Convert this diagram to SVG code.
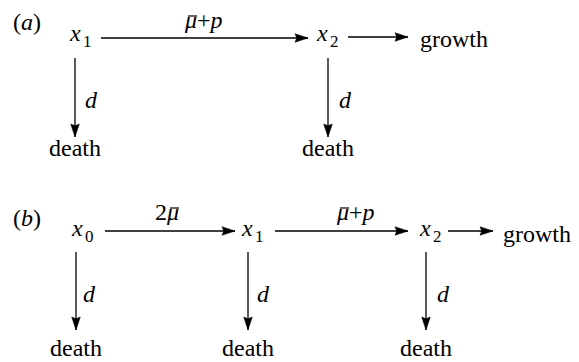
<svg xmlns="http://www.w3.org/2000/svg" width="579" height="362" viewBox="0 0 579 362">
<defs>
<marker id="ah" markerWidth="16" markerHeight="12" viewBox="-14 -6 16 12" refX="0" refY="0" orient="auto" markerUnits="userSpaceOnUse">
<path d="M0,0 L-13,-4.3 L-11.3,0 L-13,4.3 Z" fill="#000" stroke="#000" stroke-width="0.5" stroke-linejoin="miter"/>
</marker>
<style>
text{font-family:"Liberation Serif","Times New Roman",Times,Tinos,"Nimbus Roman","TeX Gyre Termes",FreeSerif,"Noto Serif","DejaVu Serif",serif;font-size:24px;fill:#000}
.it{font-style:italic}
.sub{font-size:17px;font-style:normal}
.lbl{font-style:italic}
.ctr{text-anchor:middle}
.arr{stroke:#000;stroke-width:1.3;marker-end:url(#ah)}
.bar{stroke:#000;stroke-width:1.2}
</style>
</defs>
<rect width="579" height="362" fill="#fff"/>
<g id="panel-a-label"><text x="13" y="30">(<tspan class="it">a</tspan>)</text></g>
<g id="a-x1"><text x="70" y="41" class="it">x</text><text x="83" y="47" class="sub">1</text></g>
<g id="a-x2"><text x="317" y="41" class="it">x</text><text x="330" y="47" class="sub">2</text></g>
<g id="a-growth"><text x="420" y="47">growth</text></g>
<g id="a-death1"><text x="75" y="156" class="ctr">death</text></g>
<g id="a-death2"><text x="328" y="156" class="ctr">death</text></g>
<g id="panel-b-label"><text x="13" y="226">(<tspan class="it">b</tspan>)</text></g>
<g id="b-x0"><text x="72" y="236" class="it">x</text><text x="85" y="242" class="sub">0</text></g>
<g id="b-x1"><text x="242" y="236" class="it">x</text><text x="255" y="242" class="sub">1</text></g>
<g id="b-x2"><text x="420" y="236" class="it">x</text><text x="433" y="242" class="sub">2</text></g>
<g id="b-growth"><text x="503" y="242">growth</text></g>
<g id="b-death0"><text x="76" y="356" class="ctr">death</text></g>
<g id="b-death1"><text x="248" y="356" class="ctr">death</text></g>
<g id="b-death2"><text x="426" y="356" class="ctr">death</text></g>
<g id="connectors">
<line class="arr" x1="101" y1="38" x2="308" y2="38"/>
<line class="arr" x1="348" y1="37" x2="408" y2="37"/>
<line class="arr" x1="75" y1="58" x2="75" y2="137"/>
<line class="arr" x1="328" y1="58" x2="328" y2="137"/>
<line class="arr" x1="105" y1="231" x2="235" y2="231"/>
<line class="arr" x1="275" y1="231" x2="408" y2="231"/>
<line class="arr" x1="448" y1="231" x2="493" y2="231"/>
<line class="arr" x1="76" y1="252" x2="76" y2="330"/>
<line class="arr" x1="248" y1="252" x2="248" y2="330"/>
<line class="arr" x1="426" y1="252" x2="426" y2="330"/>
</g>
<g id="edge-labels">
<text x="185" y="28" class="lbl">μ<tspan font-style="normal">+</tspan>p</text>
<line class="bar" x1="188" y1="16" x2="197" y2="16"/>
<text x="85" y="108" class="lbl">d</text>
<text x="339" y="108" class="lbl">d</text>
<text x="155" y="220">2<tspan class="it">μ</tspan></text>
<line class="bar" x1="170" y1="208" x2="179" y2="208"/>
<text x="337" y="220" class="lbl">μ<tspan font-style="normal">+</tspan>p</text>
<line class="bar" x1="340" y1="208" x2="349" y2="208"/>
<text x="83" y="302" class="lbl">d</text>
<text x="257" y="302" class="lbl">d</text>
<text x="437" y="302" class="lbl">d</text>
</g>
</svg>
